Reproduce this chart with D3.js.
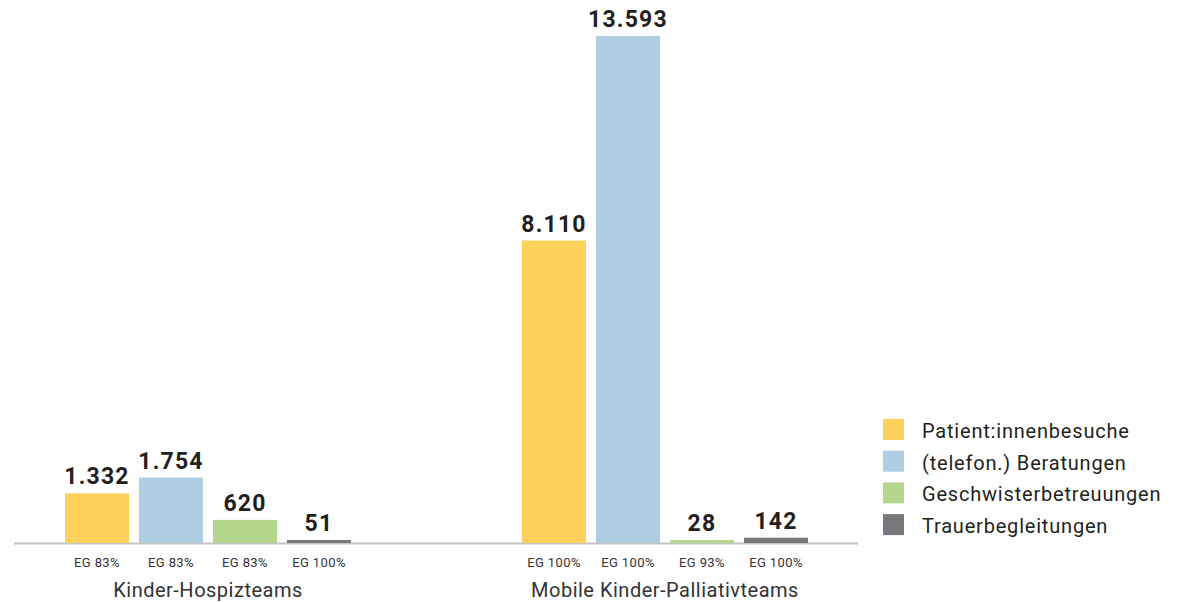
<!DOCTYPE html>
<html>
<head>
<meta charset="utf-8">
<script src="https://cdn.jsdelivr.net/npm/d3@7"></script>
<style>
  html, body { margin: 0; padding: 0; background: #fff; }
  svg { display: block; }
  text { font-family: "Roboto", "Liberation Sans", sans-serif; }
</style>
</head>
<body>
<svg id="chart" width="1180" height="602"></svg>
<script>
// ---- data ----
const groups = ["Kinder-Hospizteams", "Mobile Kinder-Palliativteams"];
const seriesNames = ["Patient:innenbesuche", "(telefon.) Beratungen", "Geschwisterbetreuungen", "Trauerbegleitungen"];
const hospizValues = [1332, 1754, 620, 51];
const palliativValues = [8110, 13593, 28, 142];
const hospizEG = ["EG 83%", "EG 83%", "EG 83%", "EG 100%"];
const palliativEG = ["EG 100%", "EG 100%", "EG 93%", "EG 100%"];
const colors = ["#FDD15C", "#AFCEE2", "#B4D78D", "#76787B"];

const valuesByGroup = [hospizValues, palliativValues];
const egByGroup = [hospizEG, palliativEG];

const svg = d3.select("#chart");
const fmt = d3.formatLocale({decimal: ",", thousands: ".", grouping: [3], currency: ["", "€"]}).format(",d");

const baseY = 543;
const x0 = d3.scaleBand().domain(groups).range([65, 808]).paddingInner(171 / 457).paddingOuter(0);
const x1 = d3.scaleBand().domain(seriesNames).range([0, x0.bandwidth()]).paddingInner(10 / 74).paddingOuter(0);
const maxV = d3.max(valuesByGroup.flat());
const y = d3.scaleLinear().domain([0, maxV]).range([baseY, 36]);

// baseline
svg.append("line")
  .attr("x1", 14).attr("x2", 858)
  .attr("y1", baseY + 0.5).attr("y2", baseY + 0.5)
  .attr("stroke", "#c4c4c4").attr("stroke-width", 2);

groups.forEach((g, gi) => {
  const gEl = svg.append("g").attr("transform", `translate(${x0(g)},0)`);
  const data = seriesNames.map((s, i) => ({s, v: valuesByGroup[gi][i], eg: egByGroup[gi][i], c: colors[i]}));

  gEl.selectAll("rect").data(data).join("rect")
    .attr("x", d => x1(d.s))
    .attr("width", x1.bandwidth())
    .attr("y", d => Math.min(y(d.v), baseY - 3))
    .attr("height", d => baseY - Math.min(y(d.v), baseY - 3))
    .attr("fill", d => d.c);

  gEl.selectAll("text.val").data(data).join("text")
    .attr("class", "val")
    .attr("x", d => x1(d.s) + x1.bandwidth() / 2)
    .attr("y", d => Math.min(y(d.v), baseY - 3) - 9)
    .attr("text-anchor", "middle")
    .attr("font-size", 23)
    .attr("font-weight", "bold")
    .attr("letter-spacing", 1.2)
    .attr("fill", "#231f20")
    .text(d => fmt(d.v));

  gEl.selectAll("text.eg").data(data).join("text")
    .attr("class", "eg")
    .attr("x", d => x1(d.s) + x1.bandwidth() / 2)
    .attr("y", 567)
    .attr("text-anchor", "middle")
    .attr("font-size", 13)
    .attr("letter-spacing", 0.4)
    .attr("fill", "#333")
    .text(d => d.eg);

  gEl.append("text")
    .attr("x", x0.bandwidth() / 2)
    .attr("y", 597)
    .attr("text-anchor", "middle")
    .attr("font-size", 20)
    .attr("letter-spacing", 0.5)
    .attr("fill", "#333")
    .text(g);
});

// legend
const legend = svg.append("g").attr("transform", "translate(883,419)");
seriesNames.forEach((s, i) => {
  const row = legend.append("g").attr("transform", `translate(0,${i * 31.7})`);
  row.append("rect").attr("width", 21).attr("height", 21).attr("fill", colors[i]);
  row.append("text").attr("x", 39).attr("y", 19).attr("font-size", 20).attr("letter-spacing", 0.8).attr("fill", "#231f20").text(s);
});
</script>
</body>
</html>
